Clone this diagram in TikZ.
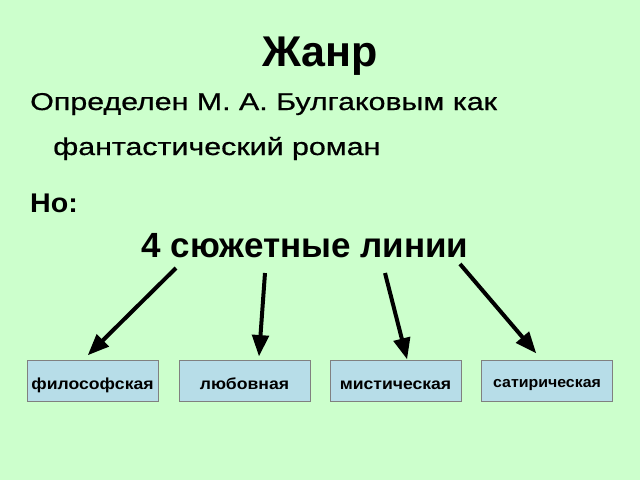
\documentclass[tikz,border=0pt]{standalone}
\usepackage{fontspec}
\setmainfont{Liberation Sans}
\newfontfamily\deffont[FakeBold=0.6]{Liberation Sans}
\usetikzlibrary{arrows,positioning}
\definecolor{slidebg}{RGB}{204,255,204}
\definecolor{boxfill}{RGB}{183,221,232}
\definecolor{boxline}{RGB}{128,128,128}
\tikzstyle{linebox} = [draw=boxline,fill=boxfill,minimum width=131pt,minimum height=41pt,inner sep=0pt,text height=16pt,text depth=0pt,font=\fontsize{16}{18}\selectfont\bfseries]
\tikzstyle{deftext} = [anchor=base west,inner sep=0pt,xscale=1.25,font=\deffont\fontsize{24.3}{28}\selectfont]
\tikzstyle{arrow} = [line width=4pt,->,>=triangle 45,color=black]

\begin{document}
\begin{tikzpicture}[x=1pt,y=-1pt]
% background
\fill[slidebg] (0,0) rectangle (640,480);
\useasboundingbox (0,0) rectangle (640,480);

% Text
\node[font=\fontsize{43}{48}\selectfont\bfseries] (title) at (320,56) {Жанр};
\node[deftext] (def1) at (30,110) {Определен М. А. Булгаковым как};
\node[deftext] (def2) at (53,155) {фантастический роман};
\node[anchor=base west,inner sep=0pt,xscale=1.06,font=\fontsize{27}{30}\selectfont\bfseries] (but) at (30,212) {Но:};
\node[anchor=base,inner sep=0pt,font=\fontsize{35}{40}\selectfont\bfseries] (lines) at (305,257) {4 сюжетные линии};

% Boxes
\node[linebox] (philo) at (92.5,381) {\scalebox{1.1}[1]{философская}};
\node[linebox] (love) at (244.5,381) {\scalebox{1.1}[1]{любовная}};
\node[linebox] (myst) at (395.5,381) {\scalebox{1.1}[1]{мистическая}};
\node[linebox,text height=12pt,font=\fontsize{15}{18}\selectfont\bfseries] (satire) at (547,381) {\scalebox{1.06}[1]{сатирическая}};

% Arrows
\coordinate (s1) at (176,268);
\coordinate (s2) at (265,273);
\coordinate (s3) at (385,273);
\coordinate (s4) at (460,264);
\coordinate (e1) at (88,355);
\coordinate (e2) at (259,356);
\coordinate (e3) at (407,359);
\coordinate (e4) at (536,353);
\draw[arrow] (s1) -- (e1);
\draw[arrow] (s2) -- (e2);
\draw[arrow] (s3) -- (e3);
\draw[arrow] (s4) -- (e4);
\end{tikzpicture}
\end{document}
